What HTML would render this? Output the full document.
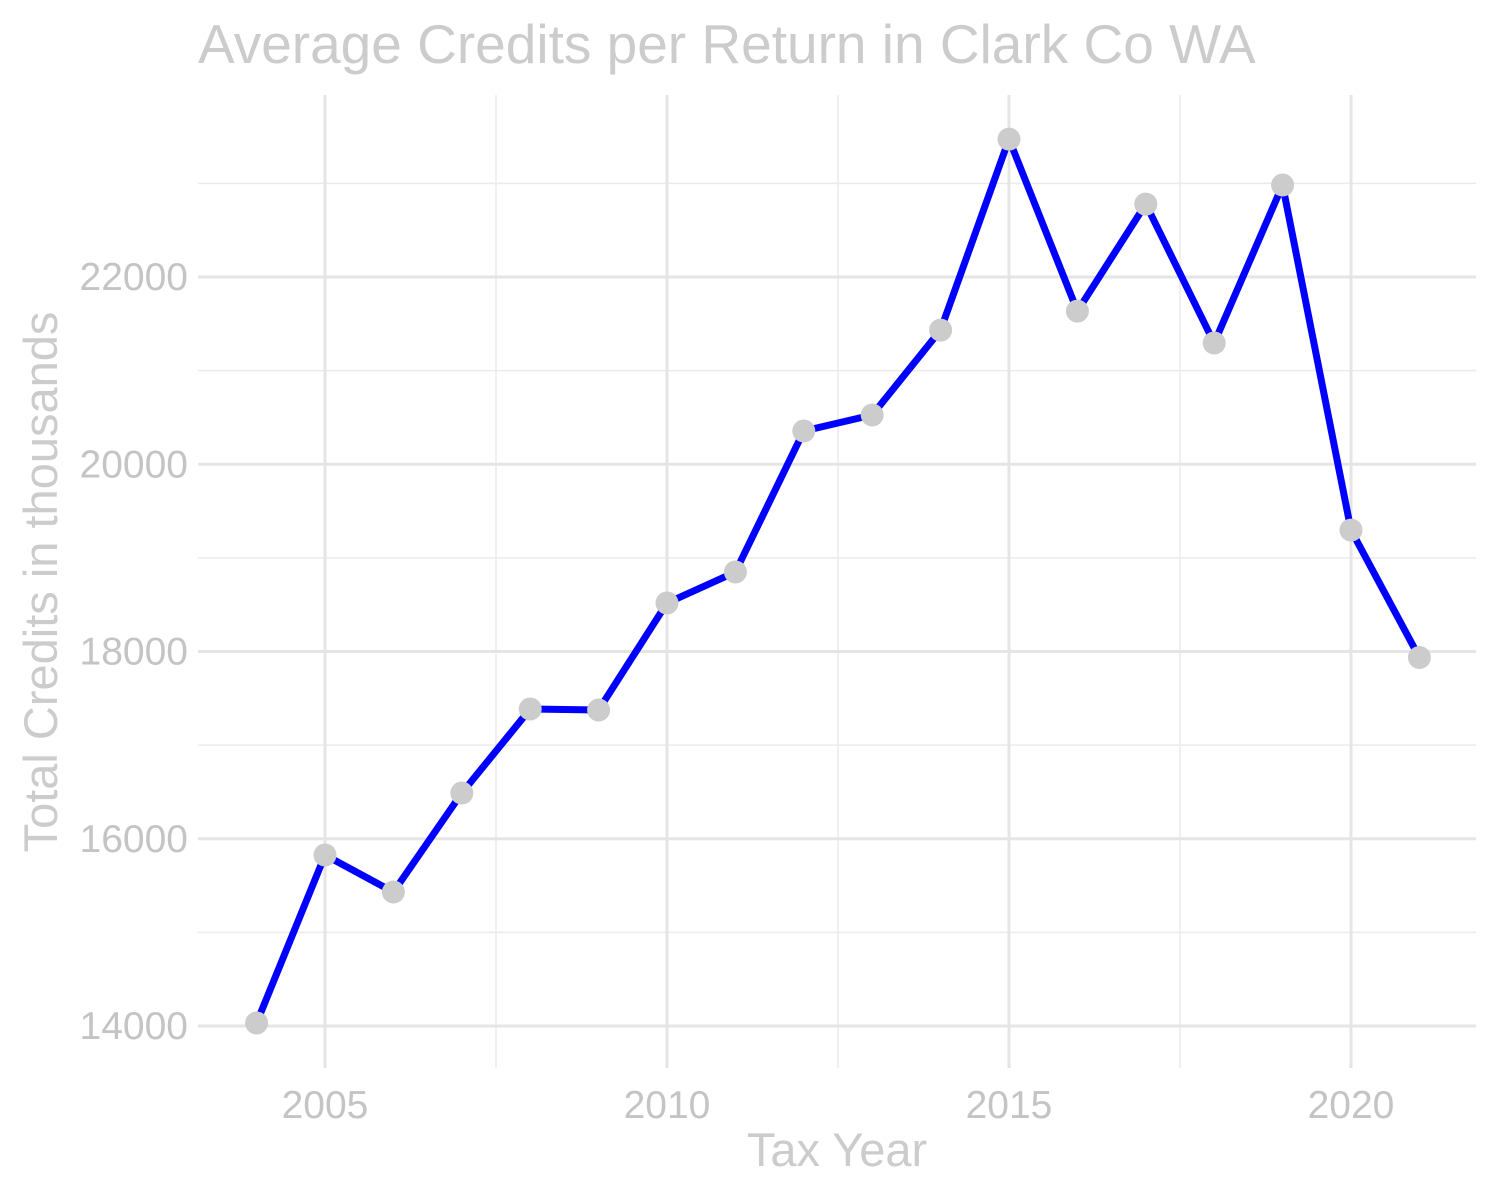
<!DOCTYPE html>
<html><head><meta charset="utf-8"><style>
body{margin:0;background:#fff;}
svg{display:block;font-family:"Liberation Sans",Arial,sans-serif;}
</style></head><body>
<svg id="chart" width="1500" height="1199">
<g id="grid"></g>
<g id="axes"></g>
<g id="series"></g>
<text x="198" y="63" font-size="55" fill="#cccccc">Average Credits per Return in Clark Co WA</text>
<text x="837" y="1166" font-size="47" fill="#cccccc" text-anchor="middle">Tax Year</text>
<text transform="translate(57,582) rotate(-90)" font-size="47" fill="#cccccc" text-anchor="middle">Total Credits in thousands</text>
</svg>
<script>
const years=[2004,2005,2006,2007,2008,2009,2010,2011,2012,2013,2014,2015,2016,2017,2018,2019,2020,2021];
const credits=[14032,15826,15431,16488,17386,17375,18518,18849,20355,20526,21433,23473,21636,22779,21295,22982,19297,17936];
const xTicks=[2005,2010,2015,2020];
const xMinor=[2007.5,2012.5,2017.5];
const yTicks=[14000,16000,18000,20000,22000];
const yMinor=[15000,17000,19000,21000,23000];
const NS="http://www.w3.org/2000/svg";
const L=198,R=1476,T=95,B=1068;
function x(v){return 325+(v-2005)*68.4;}
function y(v){return 1026-(v-14000)*0.093625;}
function mk(p,tag,attrs){const e=document.createElementNS(NS,tag);for(const k in attrs)e.setAttribute(k,attrs[k]);p.appendChild(e);return e;}
const g=document.getElementById('grid'),ax=document.getElementById('axes'),s=document.getElementById('series');
yMinor.forEach(v=>{const e=mk(g,'line',{x1:L,x2:R,y1:y(v),y2:y(v),stroke:'#ebebeb','stroke-width':1.5});

});
xMinor.forEach(v=>{const e=mk(g,'line',{x1:x(v),x2:x(v),y1:T,y2:B,stroke:'#ebebeb','stroke-width':1.5});

});
yTicks.forEach(v=>{const e=mk(g,'line',{x1:L,x2:R,y1:y(v),y2:y(v),stroke:'#e5e5e5','stroke-width':3});


const t=mk(ax,'text',{x:188,y:y(v)+13,'font-size':39,fill:'#c4c4c4','text-anchor':'end'});t.textContent=v;

});
xTicks.forEach(v=>{const e=mk(g,'line',{x1:x(v),x2:x(v),y1:T,y2:B,stroke:'#e5e5e5','stroke-width':3});


const t=mk(ax,'text',{x:x(v),y:1118,'font-size':39,fill:'#c4c4c4','text-anchor':'middle'});t.textContent=v;

});
const pts=years.map((yr,i)=>x(yr)+','+y(credits[i])).join(' ');
const pl=mk(s,'polyline',{points:pts,fill:'none',stroke:'#0000ff','stroke-width':7,'stroke-linejoin':'round'});


years.forEach((yr,i)=>{const c=mk(s,'circle',{cx:x(yr),cy:y(credits[i]),r:11.5,fill:'#cccccc'});

});
</script>
</body></html>
